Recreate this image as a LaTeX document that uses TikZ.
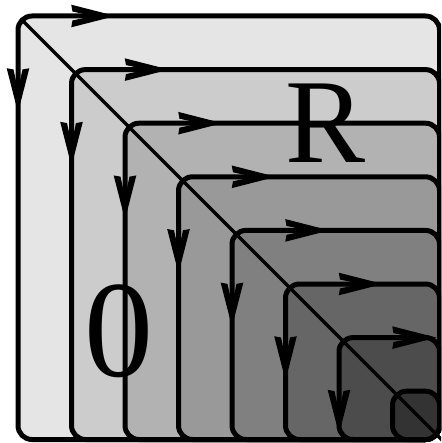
\documentclass[tikz,border=0pt]{standalone}
\usepackage{fontspec}
\setmainfont{Liberation Serif}

\tikzset{
  head/.pic={
    \fill[draw, line width=1.2pt, line join=miter]
      (0,0) -- (-41,-10.5) -- (-40,-5) -- (-17,0) -- (-40,5) -- (-41,10.5) -- cycle;
  }
}

\begin{document}
\begin{tikzpicture}[x=1pt,y=-1pt,
    box/.style={draw, line width=5pt, rounded corners=14pt},
    letter/.style={anchor=base, inner sep=0pt}]
  \useasboundingbox (0,0) rectangle (441,443);
  \clip (0,0) rectangle (441,443);
  % nested boxes, lightest first
  \foreach \i in {1,...,8} {
    \pgfmathsetmacro{\posx}{18+53.5*(\i-1)}
    \pgfmathsetmacro{\posy}{16+53.6*(\i-1)}
    \draw[box, fill=black!\i0] (\posx,\posy) rectangle (439.5,439.5);
    \pic at (\posx+95,\posy) {head};
    \pic[rotate=-90] at (\posx,\posy+94) {head};
  }
  % diagonal
  \coordinate (diagstart) at (22,20);
  \coordinate (diagend) at (446,444);
  \draw[line width=3.2pt] (diagstart) -- (diagend);
  \node[letter, font=\fontsize{120}{120}\selectfont] (rlabel) at (326,163) {R};
  \node[letter, font=\fontsize{138}{138}\selectfont] (olabel) at (119,376) {0};
\end{tikzpicture}
\end{document}
